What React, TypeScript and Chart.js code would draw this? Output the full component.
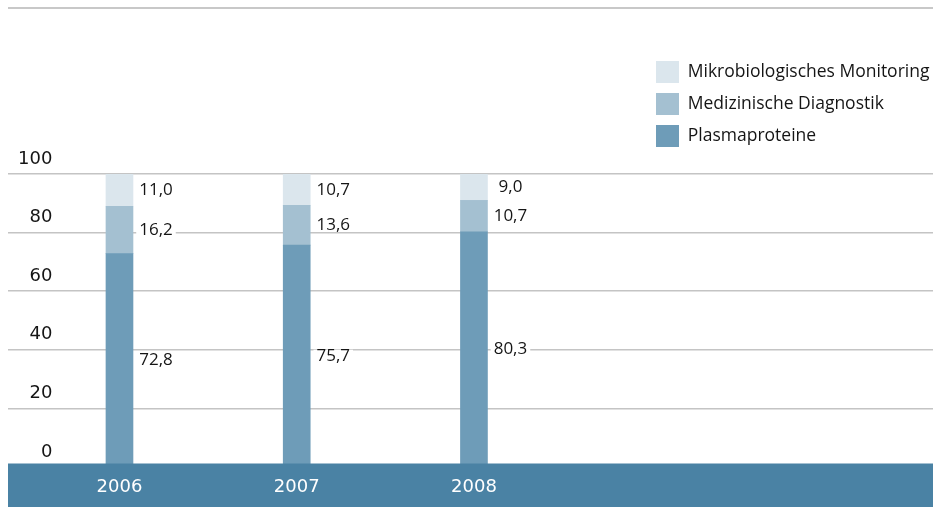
import React, { useEffect, useRef } from 'react';
import { Chart, registerables } from 'chart.js';

Chart.register(...registerables);

// ---- data ----
const categories = ['2006', '2007', '2008'];
const plasmaproteine = [72.8, 75.7, 80.3];
const medizinischeDiagnostik = [16.2, 13.6, 10.7];
const mikrobiologischesMonitoring = [11.0, 10.7, 9.0];
const seriesNames = ['Plasmaproteine', 'Medizinische Diagnostik', 'Mikrobiologisches Monitoring'];
const yMin = 0;
const yMax = 100;
const yStep = 20;

// ---- styles ----
const seriesColors = ['#6e9cb8', '#a4c0d1', '#dbe6ed'];
const bandColor = '#4a82a4';
const gridColor = '#c4c4c4';
const textColor = '#151515';
const W = 925;
const H = 507;

const fmt = (v: number) => v.toFixed(1).replace('.', ',');

const decorPlugin = {
  id: 'decor',
  afterLayout(chart: any) {
    const lg = chart.legend;
    if (lg) {
      lg.left = chart.width - 287;
      lg.top = chart.chartArea.top - 123;
      lg.right = chart.width;
      lg.bottom = chart.chartArea.bottom;
      lg.width = lg.right - lg.left;
      lg.height = lg.bottom - lg.top;
    }
  },
  beforeDraw(chart: any) {
    const ctx = chart.ctx;
    ctx.save();
    ctx.strokeStyle = '#c8c8c8';
    ctx.lineWidth = 2;
    ctx.beginPath();
    ctx.moveTo(0, 8);
    ctx.lineTo(chart.width, 8);
    ctx.stroke();
    ctx.restore();
  },
  afterDatasetsDraw(chart: any) {
    const ctx = chart.ctx;
    const xs = chart.scales.x;
    ctx.save();
    // axis band
    ctx.fillStyle = bandColor;
    ctx.fillRect(0, xs.top - 3.5, chart.width, chart.height - xs.top + 3.5);
    // value labels
    ctx.font = '17px "Open Sans"';
    ctx.textAlign = 'center';
    ctx.textBaseline = 'middle';
    chart.data.datasets.forEach((ds: any, di: number) => {
      const meta = chart.getDatasetMeta(di);
      meta.data.forEach((bar: any, i: number) => {
        const v = ds.data[i].y;
        const p = bar.getProps(['x', 'y', 'base', 'width'], true);
        const tx = p.x + p.width / 2 + 23;
        const ty = (p.y + p.base) / 2;
        const text = fmt(v);
        const tw = ctx.measureText(text).width;
        ctx.fillStyle = '#ffffff';
        ctx.fillRect(tx - tw / 2 - 3, ty - 6, tw + 6, 12);
        ctx.fillStyle = textColor;
        ctx.fillText(text, tx, ty);
      });
    });
    ctx.restore();
  },
};

export default function App() {
  const ref = useRef<HTMLCanvasElement | null>(null);

  useEffect(() => {
    if (!ref.current) return;
    const series = [plasmaproteine, medizinischeDiagnostik, mikrobiologischesMonitoring];
    const chart = new Chart(ref.current, {
      type: 'bar',
      data: {
        datasets: series.map((vals, si) => ({
          label: seriesNames[si],
          data: vals.map((v, i) => ({ x: i, y: v })),
          backgroundColor: seriesColors[si],
          borderWidth: 0,
          barThickness: 27,
        })),
      },
      options: {
        animation: false,
        responsive: false,
        maintainAspectRatio: false,
        devicePixelRatio: 1,
        layout: { padding: { top: 174, left: 0, right: 0, bottom: 0 } },
        plugins: {
          legend: {
            position: 'chartArea',
            align: 'start',
            reverse: true,
            labels: {
              boxWidth: 23,
              boxHeight: 22,
              padding: 10,
              color: textColor,
              font: { family: '"Open Sans"', size: 17.5 },
            },
          },
          tooltip: { enabled: false },
          title: { display: false },
        },
        scales: {
          x: {
            type: 'linear',
            stacked: true,
            offset: false,
            min: -0.629,
            max: 4.59,
            grid: { display: false, drawTicks: false },
            border: { display: false },
            ticks: {
              stepSize: 1,
              autoSkip: false,
              maxRotation: 0,
              padding: 10,
              z: 1,
              color: '#ffffff',
              font: { family: '"DejaVu Sans"', size: 18 },
              callback: (v: any) => (Number.isInteger(v) && categories[v] ? categories[v] : ''),
            },
            afterFit: (s: any) => {
              s.height = 40;
              s.paddingLeft = 0;
              s.paddingRight = 0;
            },
          },
          y: {
            stacked: true,
            min: yMin,
            max: yMax,
            grid: { color: gridColor, lineWidth: 1.5, drawTicks: false },
            border: { display: false },
            ticks: {
              stepSize: yStep,
              mirror: true,
              crossAlign: 'far',
              padding: 10,
              labelOffset: -15,
              color: textColor,
              font: { family: '"DejaVu Sans"', size: 18 },
            },
            afterFit: (s: any) => {
              s.width = 0;
            },
          },
        },
      } as any,
      plugins: [decorPlugin],
    });
    return () => chart.destroy();
  }, []);

  return (
    <div style={{ position: 'absolute', left: 8, top: 0, width: W, height: H }}>
      <canvas ref={ref} width={W} height={H} style={{ display: 'block', width: W, height: H }} />
    </div>
  );
}
